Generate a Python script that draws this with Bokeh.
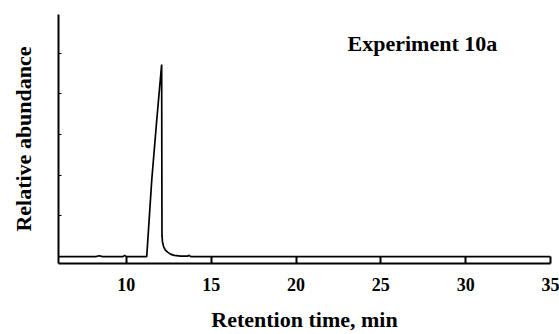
from bokeh.plotting import figure
from bokeh.models import FixedTicker, Range1d, Label
from bokeh.embed import file_html
from bokeh.resources import INLINE

# retention time (min) and relative abundance (arbitrary units)
time = [6.0, 8.2, 8.4, 8.6, 9.8, 9.9, 10.0, 11.2, 11.5, 11.8, 12.08,
        12.1, 12.13, 12.2, 12.3, 12.43, 12.6, 12.82, 13.2, 13.6, 13.7, 13.8,
        14.5, 20.0, 35.0]
abundance = [0.0, 0.0, 0.02, 0.0, 0.0, 0.03, 0.0, 0.0, 1.9, 3.4, 4.72,
             0.52, 0.36, 0.24, 0.16, 0.11, 0.06, 0.03, 0.01, 0.01, 0.03, 0.0,
             0.0, 0.0, 0.0]
x_ticks = [10, 15, 20, 25, 30, 35]
y_ticks = [1, 2, 3, 4, 5]
title_text = "Experiment 10a"

FONT = "Liberation Serif"

p = figure(width=559, height=334, output_backend="svg", toolbar_location=None,
           x_range=Range1d(6, 35), y_range=Range1d(-0.17, 5.95),
           min_border_left=58, min_border_right=9, min_border_top=14,
           min_border_bottom=69)
p.outline_line_color = None
p.grid.visible = False
p.background_fill_color = "white"

p.line(time, abundance, line_color="black", line_width=1.7)

# x axis
xa = p.xaxis[0]
xa.ticker = FixedTicker(ticks=x_ticks)
xa.axis_line_width = 2
xa.major_tick_line_width = 2
xa.major_tick_in = 7
xa.major_tick_out = 0
xa.minor_tick_line_color = None
xa.major_label_text_font = FONT
xa.major_label_text_font_style = "bold"
xa.major_label_text_font_size = "18px"
xa.major_label_text_color = "black"
xa.major_label_standoff = 14
xa.axis_label = "Retention time, min"
xa.axis_label_text_font = FONT
xa.axis_label_text_font_style = "bold"
xa.axis_label_text_font_size = "22px"
xa.axis_label_text_color = "black"
xa.axis_label_standoff = 13

# y axis
ya = p.yaxis[0]
ya.ticker = FixedTicker(ticks=y_ticks)
ya.axis_line_width = 2
ya.major_tick_line_width = 1
ya.major_tick_in = 3
ya.major_tick_out = 0
ya.minor_tick_line_color = None
ya.major_label_overrides = {t: "" for t in y_ticks}
ya.axis_label = "Relative abundance"
ya.axis_label_text_font = FONT
ya.axis_label_text_font_style = "bold"
ya.axis_label_text_font_size = "22px"
ya.axis_label_text_color = "black"
ya.axis_label_standoff = 23

lab = Label(x=27.45, y=5.24, text=title_text, text_font=FONT,
            text_font_style="bold", text_font_size="22px",
            text_align="center", text_baseline="middle", text_color="black")
p.add_layout(lab)

open("out.html", "w").write(file_html(p, INLINE))
